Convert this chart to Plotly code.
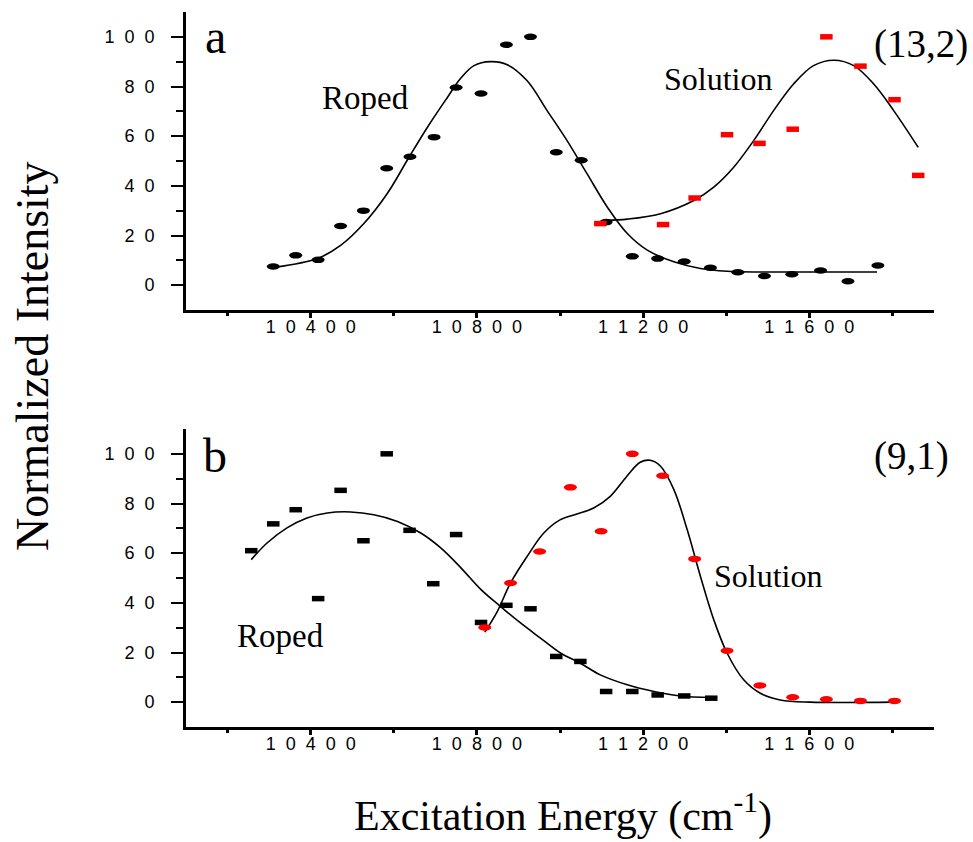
import plotly.graph_objects as go

# ---------------- data: panel a, (13,2) ----------------
a_roped_x = [10310, 10364, 10418, 10472, 10527, 10583, 10639, 10697, 10750, 10810,
             10871, 10929, 10991, 11051, 11111, 11174, 11235, 11299, 11362, 11428,
             11492, 11558, 11627, 11693, 11765]
a_roped_y = [7.5, 12.0, 10.2, 23.8, 30.0, 47.1, 51.7, 59.6, 79.6, 77.2,
             96.8, 100.0, 53.5, 50.3, 25.4, 11.6, 10.7, 9.5, 7.0, 5.2,
             3.7, 4.4, 5.9, 1.6, 7.9]
a_sol_x = [11097, 11248, 11324, 11402, 11480, 11560, 11641, 11723, 11805, 11862]
a_sol_y = [24.8, 24.4, 35.1, 60.6, 57.1, 62.8, 100.0, 88.2, 74.7, 44.2]

# fitted curves, panel a
a_roped_fit_x = [10315, 10416, 10472, 10528, 10584, 10632, 10681, 10729, 10761, 10793,
                 10833, 10873, 10921, 10969, 11017, 11065, 11114, 11162, 11210, 11274,
                 11338, 11402, 11482, 11562, 11763]
a_roped_fit_y = [7.2, 10.7, 16.0, 24.8, 36.8, 50.2, 63.6, 75.6, 83.3, 88.4,
                 90.0, 88.8, 82.3, 70.3, 58.2, 44.9, 31.4, 20.8, 14.1, 9.4,
                 6.7, 5.6, 5.3, 5.3, 5.3]
a_sol_fit_x = [11111, 11162, 11242, 11322, 11370, 11418, 11466, 11514, 11562, 11610,
               11659, 11707, 11755, 11803, 11862]
a_sol_fit_y = [26.1, 26.6, 28.8, 34.1, 39.5, 47.5, 58.2, 70.3, 81.0, 88.4,
               90.6, 88.4, 81.0, 70.3, 55.5]

# ---------------- data: panel b, (9,1) ----------------
b_roped_x = [10257, 10310, 10364, 10418, 10472, 10527, 10583, 10638, 10695, 10750,
             10810, 10871, 10929, 10991, 11049, 11111, 11174, 11235, 11299, 11364]
b_roped_y = [61.0, 71.8, 77.5, 41.7, 85.3, 65.0, 100.0, 69.2, 47.7, 67.5,
             32.1, 39.0, 37.6, 18.4, 16.4, 4.3, 4.3, 2.9, 2.5, 1.6]
b_sol_x = [10819, 10881, 10951, 11025, 11099, 11174, 11247, 11324, 11402, 11481,
           11560, 11641, 11723, 11805]
b_sol_y = [30.1, 48.0, 60.7, 86.5, 68.8, 100.0, 91.2, 57.7, 20.7, 6.7,
           2.0, 1.2, 0.5, 0.5]

# fitted curves, panel b
b_roped_fit_x = [10257, 10295, 10343, 10391, 10440, 10496, 10552, 10609, 10665, 10713,
                 10761, 10810, 10857, 10905, 10953, 11001, 11049, 11097, 11162, 11226,
                 11290, 11364]
b_roped_fit_y = [57.4, 64.1, 70.2, 74.2, 76.2, 76.6, 75.5, 72.8, 68.1, 62.1,
                 54.2, 45.3, 38.5, 31.9, 25.8, 19.8, 15.7, 11.0, 7.0, 4.3,
                 2.5, 1.9]
b_sol_fit_x = [10819, 10849, 10881, 10921, 10961, 11001, 11041, 11081, 11121, 11161,
               11193, 11217, 11242, 11274, 11306, 11338, 11370, 11402, 11442, 11482,
               11530, 11602, 11803]
b_sol_fit_y = [28.2, 36.5, 48.0, 58.7, 68.1, 73.5, 75.8, 78.2, 82.9, 91.0,
               96.6, 97.4, 95.0, 85.6, 69.5, 50.6, 33.2, 19.8, 9.0, 3.6,
               0.9, 0.0, 0.0]

# ---------------- axis ticks ----------------
x_tickvals = [10400, 10800, 11200, 11600]
x_minorvals = [10200, 10600, 11000, 11400, 11800]
y_tickvals = [0, 20, 40, 60, 80, 100]
y_minorvals = [10, 30, 50, 70, 90]
SP = "\u00a0\u00a0"  # wide gap between digits of the tick labels
x_ticktext = [SP.join(str(v)) for v in x_tickvals]
y_ticktext = [SP.join(str(v)) for v in y_tickvals]

RED = "#ff0000"
BLACK = "#000000"
SERIF = "Liberation Serif, Times New Roman, serif"
SANS = "Liberation Sans, Arial, sans-serif"

fig = go.Figure()

# fit curves
for xs, ys, xa, ya in [
    (a_roped_fit_x, a_roped_fit_y, "x", "y"),
    (a_sol_fit_x, a_sol_fit_y, "x", "y"),
    (b_roped_fit_x, b_roped_fit_y, "x2", "y2"),
    (b_sol_fit_x, b_sol_fit_y, "x2", "y2"),
]:
    fig.add_trace(go.Scatter(x=xs, y=ys, mode="lines", xaxis=xa, yaxis=ya,
                             line=dict(color=BLACK, width=1.6, shape="spline", smoothing=1.0),
                             showlegend=False, hoverinfo="skip"))

# data points (invisible hover targets; visible glyphs are drawn as pixel-sized shapes)
for xs, ys, xa, ya, name in [
    (a_roped_x, a_roped_y, "x", "y", "Roped"),
    (a_sol_x, a_sol_y, "x", "y", "Solution"),
    (b_roped_x, b_roped_y, "x2", "y2", "Roped"),
    (b_sol_x, b_sol_y, "x2", "y2", "Solution"),
]:
    fig.add_trace(go.Scatter(x=xs, y=ys, mode="markers", xaxis=xa, yaxis=ya, name=name,
                             marker=dict(size=12, opacity=0), showlegend=False))

shapes = []


def add_glyphs(xs, ys, xref, yref, kind, color, w, h):
    for xv, yv in zip(xs, ys):
        shapes.append(dict(type=kind, xref=xref, yref=yref,
                           xsizemode="pixel", ysizemode="pixel",
                           xanchor=xv, yanchor=yv,
                           x0=-w / 2, x1=w / 2, y0=-h / 2, y1=h / 2,
                           fillcolor=color, line=dict(width=0), layer="above"))


add_glyphs(a_roped_x, a_roped_y, "x", "y", "circle", BLACK, 13, 6.5)
add_glyphs(a_sol_x, a_sol_y, "x", "y", "rect", RED, 12.5, 5.5)
add_glyphs(b_roped_x, b_roped_y, "x2", "y2", "rect", BLACK, 12.5, 5.5)
add_glyphs(b_sol_x, b_sol_y, "x2", "y2", "circle", RED, 13, 6.5)

xaxis_style = dict(range=[10100, 11900], showgrid=False, zeroline=False,
                   showline=True, linecolor=BLACK, linewidth=2.5,
                   ticks="outside", ticklen=5, tickwidth=2.5, tickcolor=BLACK,
                   tickvals=x_tickvals, ticktext=x_ticktext,
                   tickfont=dict(family=SANS, size=18, color=BLACK),
                   ticklabelstandoff=-6,
                   minor=dict(tickvals=x_minorvals, ticks="outside", ticklen=3,
                              tickwidth=2.5, tickcolor=BLACK))
yaxis_style = dict(range=[-10, 110], showgrid=False, zeroline=False,
                   showline=True, linecolor=BLACK, linewidth=2.8,
                   ticks="outside", ticklen=12, tickwidth=2, tickcolor=BLACK,
                   tickvals=y_tickvals, ticktext=y_ticktext,
                   tickfont=dict(family=SANS, size=18, color=BLACK),
                   ticklabelstandoff=13,
                   minor=dict(tickvals=y_minorvals, ticks="outside", ticklen=7,
                              tickwidth=2, tickcolor=BLACK))

W, H = 973, 842
xdom = [186 / W, 934 / W]


def note(text, x, y, size, xref="paper", yref="paper", **kw):
    return dict(text=text, x=x, y=y, xref=xref, yref=yref, showarrow=False,
                xanchor="center", yanchor="middle",
                font=dict(family=SERIF, size=size, color=BLACK), **kw)


annotations = [
    note("a", 215 / W, 1 - 36 / H, 48),
    note("b", 215 / W, 1 - 455 / H, 48),
    note("(13,2)", 921 / W, 1 - 44 / H, 39),
    note("(9,1)", 911 / W, 1 - 456 / H, 39),
    note("Roped", 10532, 75.5, 33, "x", "y"),
    note("Solution", 11379, 83.1, 32, "x", "y"),
    note("Roped", 10328, 26.7, 33, "x2", "y2"),
    note("Solution", 11501, 51, 32, "x2", "y2"),
    note("Normalized Intensity", 32 / W, 1 - 356 / H, 46, textangle=-90),
    note("Excitation Energy (cm<sup>-1</sup>)", 563 / W, 1 - 813 / H, 42),
]

fig.update_layout(
    width=W, height=H,
    margin=dict(l=0, r=0, t=0, b=0),
    paper_bgcolor="white", plot_bgcolor="white",
    xaxis=dict(domain=xdom, anchor="y", **xaxis_style),
    yaxis=dict(domain=[1 - 310 / H, 1 - 12 / H], anchor="x", **yaxis_style),
    xaxis2=dict(domain=xdom, anchor="y2", **xaxis_style),
    yaxis2=dict(domain=[1 - 727 / H, 1 - 429 / H], anchor="x2", **yaxis_style),
    shapes=shapes,
    annotations=annotations,
    showlegend=False,
)

fig.write_html("out.html")
